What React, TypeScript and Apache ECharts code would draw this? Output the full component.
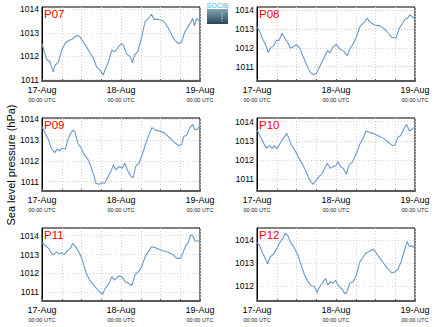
import React, { useEffect, useRef } from 'react';
import * as echarts from 'echarts';

const panelNames = ['P07', 'P08', 'P09', 'P10', 'P11', 'P12'];
const dayLabels = ['17-Aug', '18-Aug', '19-Aug'];
const timeLabel = '00:00 UTC';
const yTicks = [1011, 1012, 1013, 1014];
const yMins = [1010.94, 1010.24, 1010.55, 1010.39, 1010.54, 1011.35];
const yMaxs = [1014.1, 1014.16, 1014.05, 1014.19, 1014.41, 1014.52];
const yTitle = 'Sea level pressure (hPa)';

const p07Hours = [0, 0.9, 1.4, 2.4, 3.4, 3.9, 5.0, 6.0, 7.0, 8.0, 9.0, 10.0, 10.7, 11.5, 12.6, 14.1, 15.6, 16.6, 17.6, 18.6, 19.1, 20.2, 21.2, 22.2, 23.2, 24.2, 24.7, 25.7, 26.9, 27.5, 28.1, 29.1, 30.3, 31.3, 32.3, 33.3, 34.0, 35.3, 36.9, 38.4, 39.9, 41.4, 42.4, 43.4, 45.0, 45.8, 46.3, 47.0, 47.7, 48];
const p07Values = [1012.54, 1012.1, 1011.86, 1011.76, 1011.33, 1011.6, 1011.76, 1012.26, 1012.54, 1012.66, 1012.71, 1012.83, 1012.89, 1012.83, 1012.6, 1012.26, 1011.9, 1011.54, 1011.4, 1011.19, 1011.4, 1011.76, 1012.26, 1012.19, 1012.4, 1012.54, 1012.47, 1012.1, 1011.97, 1011.71, 1012.04, 1012.19, 1012.83, 1013.47, 1013.61, 1013.79, 1013.57, 1013.57, 1013.51, 1013.19, 1012.76, 1012.54, 1012.6, 1013.04, 1013.4, 1013.61, 1013.29, 1013.61, 1013.51, 1013.5];

const p08Hours = [0, 0.81, 1.83, 2.84, 3.35, 4.06, 5.07, 5.89, 6.7, 7.61, 8.42, 9.44, 10.15, 11.16, 11.97, 12.99, 14.0, 15.02, 16.03, 17.05, 18.06, 19.08, 20.09, 21.41, 22.12, 23.14, 24.15, 25.17, 26.39, 27.4, 28.21, 29.23, 30.24, 31.26, 32.27, 33.49, 34.5, 35.82, 37.35, 38.87, 39.88, 40.9, 42.22, 43.23, 44.25, 44.96, 45.67, 46.48, 47.3, 48];
const p08Values = [1013.12, 1012.86, 1012.42, 1012.07, 1011.75, 1011.98, 1012.1, 1012.39, 1012.39, 1012.77, 1012.51, 1012.25, 1011.98, 1012.07, 1012.16, 1011.98, 1011.54, 1011.11, 1010.75, 1010.58, 1010.63, 1011.02, 1011.37, 1011.86, 1011.72, 1012.07, 1012.19, 1011.93, 1011.81, 1011.58, 1011.93, 1012.21, 1012.6, 1013.12, 1013.3, 1013.56, 1013.33, 1013.21, 1013.16, 1012.98, 1012.77, 1012.56, 1012.51, 1013.04, 1013.3, 1013.51, 1013.56, 1013.74, 1013.61, 1013.56];

const p09Hours = [0, 1.0, 2.01, 2.81, 3.82, 4.62, 5.32, 6.13, 7.13, 7.83, 8.64, 9.34, 10.04, 10.85, 11.85, 12.85, 14.06, 14.86, 15.87, 16.37, 17.37, 18.38, 19.08, 19.88, 20.89, 21.69, 22.39, 23.4, 24.4, 25.11, 25.91, 27.11, 27.72, 28.42, 29.42, 30.43, 31.43, 32.44, 33.44, 34.44, 35.45, 36.96, 38.46, 39.97, 41.47, 42.48, 42.98, 43.98, 44.79, 45.79, 46.5, 47.2, 48];
const p09Values = [1013.63, 1013.31, 1013.0, 1012.6, 1012.39, 1012.56, 1012.47, 1012.6, 1012.56, 1013.0, 1013.31, 1013.46, 1013.39, 1012.84, 1012.63, 1012.28, 1012.04, 1011.72, 1011.24, 1010.92, 1010.87, 1010.95, 1010.92, 1011.19, 1011.48, 1011.8, 1011.56, 1011.72, 1011.64, 1011.88, 1011.56, 1011.24, 1011.19, 1011.72, 1011.88, 1012.28, 1012.79, 1013.23, 1013.59, 1013.47, 1013.43, 1013.36, 1013.15, 1012.92, 1012.72, 1012.79, 1013.15, 1013.23, 1013.55, 1013.74, 1013.47, 1013.52, 1013.68];

const p10Hours = [0, 1.02, 2.03, 2.95, 3.76, 4.58, 5.29, 6.1, 7.02, 8.03, 9.05, 9.66, 10.37, 11.7, 12.71, 13.93, 15.15, 15.97, 16.98, 17.8, 18.81, 19.83, 20.54, 21.36, 22.27, 23.09, 23.9, 24.61, 25.32, 26.14, 27.16, 27.97, 28.98, 30.2, 31.22, 32.24, 33.05, 34.07, 35.29, 36.82, 38.34, 39.87, 41.19, 41.9, 42.92, 43.63, 44.44, 45.46, 46.27, 47.19, 48];
const p10Values = [1013.57, 1013.22, 1012.87, 1012.61, 1012.75, 1012.61, 1012.75, 1012.58, 1012.87, 1013.13, 1013.39, 1013.13, 1012.82, 1012.44, 1012.1, 1011.75, 1011.31, 1010.97, 1010.74, 1010.91, 1011.14, 1011.31, 1011.57, 1011.83, 1011.57, 1011.66, 1011.69, 1011.92, 1011.66, 1011.57, 1011.28, 1011.75, 1011.89, 1012.35, 1012.82, 1013.13, 1013.51, 1013.45, 1013.39, 1013.27, 1013.13, 1012.93, 1012.75, 1012.78, 1013.22, 1013.27, 1013.57, 1013.86, 1013.51, 1013.62, 1013.74];

const p11Hours = [0, 1.01, 2.02, 3.03, 3.54, 4.35, 5.05, 5.86, 6.77, 7.58, 8.59, 9.4, 10.41, 11.42, 12.43, 13.44, 14.45, 15.66, 16.67, 17.68, 18.39, 19.2, 20.21, 21.22, 22.03, 23.24, 24.25, 25.26, 26.27, 27.28, 28.29, 29.3, 30.32, 31.33, 32.34, 33.35, 34.36, 35.37, 36.88, 38.4, 39.92, 40.93, 42.14, 42.95, 43.76, 44.46, 45.17, 45.78, 46.48, 47.49, 48];
const p11Values = [1013.65, 1013.47, 1013.33, 1013.05, 1012.98, 1013.14, 1013.05, 1013.1, 1013.0, 1013.19, 1013.33, 1013.6, 1013.37, 1013.07, 1012.62, 1012.0, 1011.65, 1011.39, 1011.18, 1011.0, 1010.9, 1011.21, 1011.42, 1011.83, 1011.65, 1011.86, 1011.83, 1011.57, 1011.48, 1011.36, 1011.92, 1012.1, 1012.36, 1012.89, 1013.16, 1013.42, 1013.37, 1013.3, 1013.19, 1013.12, 1012.98, 1012.8, 1012.8, 1013.16, 1013.51, 1013.65, 1014.04, 1014.0, 1013.72, 1013.72, 1013.68];

const p12Hours = [0, 0.71, 1.73, 2.54, 3.25, 3.97, 4.98, 5.8, 6.81, 7.83, 8.64, 9.36, 10.07, 11.39, 12.41, 13.42, 14.44, 15.46, 16.47, 17.49, 18.2, 19.02, 19.83, 20.85, 21.56, 22.27, 23.09, 23.9, 24.61, 25.63, 26.64, 27.16, 28.18, 29.19, 30.2, 31.22, 32.24, 33.26, 34.27, 35.29, 36.31, 37.33, 38.55, 39.87, 40.88, 41.9, 42.92, 43.94, 44.96, 45.66, 46.27, 46.99, 48];
const p12Values = [1013.9, 1013.78, 1013.42, 1013.2, 1012.97, 1013.26, 1013.38, 1013.57, 1013.86, 1014.07, 1014.29, 1014.19, 1013.93, 1013.64, 1013.35, 1012.91, 1012.48, 1012.19, 1012.01, 1011.97, 1011.72, 1011.97, 1012.12, 1012.33, 1012.04, 1012.19, 1012.12, 1012.26, 1012.04, 1011.9, 1011.68, 1011.68, 1012.12, 1012.19, 1012.48, 1013.04, 1013.26, 1013.45, 1013.51, 1013.6, 1013.42, 1013.2, 1012.97, 1012.72, 1012.58, 1012.61, 1012.75, 1013.12, 1013.64, 1013.93, 1013.71, 1013.75, 1013.64];

const allHours = [p07Hours, p08Hours, p09Hours, p10Hours, p11Hours, p12Hours];
const allValues = [p07Values, p08Values, p09Values, p10Values, p11Values, p12Values];

// layout
const colLefts = [42, 257];
const rowTops = [7, 118, 228];
const rowHeights = [74, 73, 73];
const plotWidth = 158;
const FONT = 'Liberation Sans, Arial, sans-serif';

export default function App() {
  const ref = useRef<HTMLDivElement>(null);
  useEffect(() => {
    if (!ref.current) return;
    const chart = echarts.init(ref.current, null, { renderer: 'svg' });
    const grids: any[] = [];
    const xAxes: any[] = [];
    const yAxes: any[] = [];
    const series: any[] = [];
    const graphics: any[] = [];
    panelNames.forEach((name, i) => {
      const col = i % 2;
      const row = Math.floor(i / 2);
      const left = colLefts[col];
      const top = rowTops[row];
      grids.push({
        left, top, width: plotWidth, height: rowHeights[row],
        show: true, borderColor: '#000', borderWidth: 1, backgroundColor: 'transparent',
      });
      xAxes.push({
        type: 'value', gridIndex: i, min: 0, max: 48, interval: 6,
        axisLine: { show: true, onZero: false, lineStyle: { color: '#5a5a5a', width: 2 } },
        axisTick: { show: true, inside: true, length: 2, lineStyle: { color: '#5a5a5a', width: 1 } },
        splitLine: { show: true, lineStyle: { color: '#d2d2d2', type: [1, 2], width: 1 } },
        axisLabel: {
          margin: 3,
          showMinLabel: true, showMaxLabel: true, hideOverlap: false,
          formatter: (v: number) => (v % 24 === 0 ? `{d|${dayLabels[v / 24]}}\n{t|${timeLabel}}` : ''),
          rich: {
            d: { fontSize: 9, color: '#000', fontFamily: FONT, lineHeight: 11 },
            t: { fontSize: 5.6, color: '#222', fontFamily: FONT, lineHeight: 9 },
          },
        },
      });
      yAxes.push({
        type: 'value', gridIndex: i, min: yMins[i], max: yMaxs[i],
        axisLine: { show: true, lineStyle: { color: '#000', width: 1 } },
        axisTick: { show: false, customValues: yTicks },
        axisLabel: { customValues: yTicks, fontSize: 8.5, color: '#000', fontFamily: FONT, margin: 3, formatter: (v: number) => String(Math.round(v)) },
        splitLine: { show: true, lineStyle: { color: '#d2d2d2', type: [1, 2], width: 1 } },
      });
      series.push({
        type: 'line', xAxisIndex: i, yAxisIndex: i, showSymbol: false, symbol: 'none',
        data: allHours[i].map((h, k) => [h, allValues[i][k]]),
        lineStyle: { color: '#6b9ac8', width: 1.1 },
        clip: true,
      });
      graphics.push({
        type: 'text', left: left + 2, top: top + 1, z: 10,
        style: { text: name, fill: '#ff0000', fontSize: 11.5, fontFamily: FONT },
      });
    });
    graphics.push({
      type: 'text', x: 11, y: 165, rotation: Math.PI / 2,
      style: { text: yTitle, fill: '#000', fontSize: 11, fontFamily: FONT, align: 'center', verticalAlign: 'middle' },
    });
    graphics.push({
      type: 'rect', shape: { x: 207, y: 9, width: 21, height: 15 },
      style: {
        fill: new echarts.graphic.LinearGradient(0, 0, 0, 1, [
          { offset: 0, color: '#7fa8b4' },
          { offset: 1, color: '#2c4455' },
        ]),
      },
    });
    graphics.push({
      type: 'line', shape: { x1: 222, y1: 13, x2: 222, y2: 23 },
      style: { stroke: '#ffffff', lineWidth: 1, lineDash: [1, 1.5] },
    });
    graphics.push({
      type: 'text', x: 217.5, y: 2,
      style: { text: 'SOCIB', fill: '#3cbcd6', fontSize: 7, fontFamily: FONT, align: 'center', verticalAlign: 'top' },
    });
    chart.setOption({
      animation: false,
      textStyle: { fontFamily: FONT },
      grid: grids,
      xAxis: xAxes,
      yAxis: yAxes,
      series,
      graphic: graphics,
    });
    return () => chart.dispose();
  }, []);
  return <div ref={ref} style={{ position: 'absolute', left: 0, top: 0, width: 434, height: 327, background: '#fff' }} />;
}
